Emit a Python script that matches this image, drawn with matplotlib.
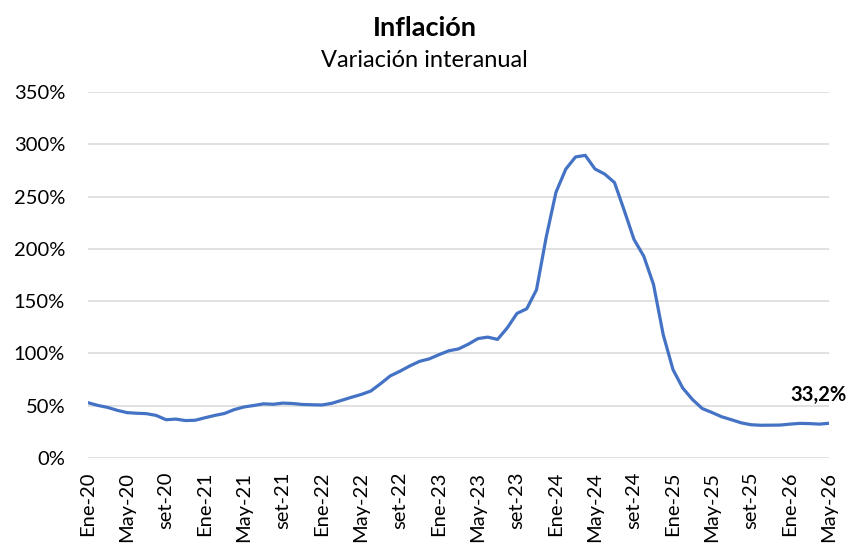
import matplotlib
matplotlib.use("Agg")
import matplotlib.pyplot as plt
from matplotlib.ticker import FuncFormatter, FixedLocator

plt.rcParams['font.family'] = ['Lato', 'DejaVu Sans']

# inflacion interanual mensual, ene-20 a may-26
inflacion = [
    52.9, 50.3, 48.4, 45.6, 43.4, 42.8, 42.4, 40.7, 36.6, 37.2, 35.8, 36.1,
    38.5, 40.7, 42.6, 46.3, 48.8, 50.2, 51.8, 51.4, 52.5, 52.1, 51.2, 50.9,
    50.7, 52.3, 55.1, 58.0, 60.7, 64.0, 71.0, 78.5, 83.0, 88.0, 92.4, 94.8,
    98.8, 102.5, 104.3, 108.8, 114.2, 115.6, 113.4, 124.4, 138.3, 142.7, 160.9, 211.4,
    254.2, 276.2, 287.9, 289.4, 276.4, 271.5, 263.4, 236.7, 209.0, 193.0, 166.0, 117.8,
    84.5, 66.9, 55.9, 47.3, 43.5, 39.4, 36.6, 33.6, 31.8, 31.3, 31.4, 31.5,
    32.4, 33.1, 32.9, 32.4, 33.2,
]
meses = ["Ene", "Feb", "Mar", "Abr", "May", "Jun", "Jul", "Ago", "set", "Oct", "Nov", "Dic"]
etiquetas = [f"{meses[i % 12]}-{20 + i // 12}" for i in range(len(inflacion))]
ultimo_label = "33,2%"

fig = plt.figure(figsize=(8.49, 5.46), dpi=100)
ax = fig.add_axes([88 / 849, 1 - 458 / 546, 741 / 849, 366 / 546])

x = list(range(len(inflacion)))
ax.plot(x, inflacion, color="#4472C4", lw=2.3, solid_capstyle="round", zorder=3)

ax.set_xlim(0, len(inflacion) - 1)
ax.set_ylim(0, 350)
ax.set_yticks(range(0, 351, 50))
ax.yaxis.set_major_formatter(FuncFormatter(lambda v, p: f"{int(v)}%"))
ticks = list(range(0, len(inflacion), 4))
ax.xaxis.set_major_locator(FixedLocator(ticks))
ax.set_xticklabels([etiquetas[i] for i in ticks], rotation=90)

ax.grid(axis="y", color="#D9D9D9", lw=1.1)
ax.set_axisbelow(True)
for s in ax.spines.values():
    s.set_visible(False)
ax.tick_params(axis="both", length=0, labelsize=14.5, colors="black")
ax.tick_params(axis="y", pad=16.5)
ax.tick_params(axis="x", pad=10)

ax.annotate(ultimo_label, xy=(x[-1], inflacion[-1]), xytext=(13, 16),
            textcoords="offset points", ha="right", va="baseline",
            fontsize=14.5, fontweight="bold")

fig.text(0.5, 1 - 36 / 546, "Inflación", ha="center", va="baseline",
         fontsize=19.5, fontweight="bold")
fig.text(0.5, 1 - 67 / 546, "Variación interanual", ha="center", va="baseline",
         fontsize=17)

fig.savefig("out.png", dpi=100)
